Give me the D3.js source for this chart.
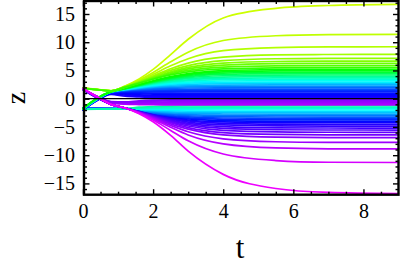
<!DOCTYPE html>
<html>
<head>
<meta charset="utf-8">
<script src="https://cdn.jsdelivr.net/npm/d3@7"></script>
<style>
  html, body { margin: 0; padding: 0; background: #fff; }
  svg { display: block; }
</style>
</head>
<body>
<script>
const WIDTH = 400;
const HEIGHT = 269;
const PLOT = { left: 84, right: 398.5, top: 1, bottom: 194.7 };
const SERIF = '"Liberation Serif"';

const T_KNOTS = [0, 0.4, 0.8, 1.2, 1.6, 2.0, 2.5, 3.0, 4.0, 5.5, 7, 9];

// yellow-green curves: start near +1.8, end high
const upperHues = [72, 75, 78, 82, 86, 90, 95, 100, 108];
const upperCurves = [
  [1.9, 1.65, 1.4, 2.25, 3.5, 5.19, 7.81, 10.53, 14.3, 16.0, 16.5, 16.7],
  [1.88, 1.64, 1.4, 2.2, 3.29, 4.65, 6.54, 8.24, 10.3, 11.15, 11.35, 11.4],
  [1.86, 1.63, 1.4, 2.15, 3.15, 4.32, 5.83, 7.08, 8.5, 9.05, 9.17, 9.2],
  [1.85, 1.62, 1.4, 2.12, 3.03, 4.05, 5.31, 6.3, 7.35, 7.76, 7.83, 7.85],
  [1.84, 1.61, 1.4, 2.1, 2.96, 3.9, 5.01, 5.86, 6.75, 7.07, 7.13, 7.15],
  [1.83, 1.6, 1.39, 2.08, 2.9, 3.78, 4.78, 5.54, 6.3, 6.59, 6.64, 6.65],
  [1.82, 1.6, 1.38, 2.06, 2.85, 3.67, 4.6, 5.27, 5.95, 6.2, 6.24, 6.25],
  [1.81, 1.59, 1.37, 2.04, 2.79, 3.56, 4.4, 5.0, 5.6, 5.8, 5.84, 5.85],
  [1.8, 1.58, 1.36, 2.02, 2.74, 3.45, 4.21, 4.75, 5.28, 5.46, 5.49, 5.5],
];

// blue -> green curves: start near -1.8, cross up, settle in the dense band above 0
const crossingUpHues = [246, 244, 242, 240, 237, 233, 228, 222, 215, 208, 200,
  192, 184, 177, 170, 163, 156, 148, 140, 132, 125, 118];
const crossingUpCurves = [
  [-1.96, -0.32, 0.78, 0.43, 0.31, 0.26, 0.24, 0.23, 0.22, 0.22, 0.22, 0.22],
  [-1.94, -0.3, 0.84, 0.64, 0.5, 0.44, 0.41, 0.4, 0.38, 0.38, 0.38, 0.38],
  [-1.94, -0.28, 0.9, 0.82, 0.68, 0.62, 0.58, 0.57, 0.55, 0.55, 0.55, 0.55],
  [-1.92, -0.26, 0.96, 0.98, 0.87, 0.82, 0.78, 0.77, 0.75, 0.75, 0.75, 0.75],
  [-1.92, -0.24, 1.02, 1.11, 1.04, 1.0, 0.97, 0.96, 0.95, 0.95, 0.95, 0.95],
  [-1.9, -0.22, 1.08, 1.22, 1.21, 1.21, 1.2, 1.2, 1.2, 1.2, 1.2, 1.2],
  [-1.9, -0.2, 1.12, 1.33, 1.37, 1.4, 1.43, 1.44, 1.45, 1.45, 1.45, 1.45],
  [-1.88, -0.18, 1.14, 1.4, 1.51, 1.58, 1.64, 1.67, 1.69, 1.7, 1.7, 1.7],
  [-1.88, -0.16, 1.16, 1.47, 1.63, 1.75, 1.84, 1.89, 1.93, 1.95, 1.95, 1.95],
  [-1.86, -0.14, 1.18, 1.52, 1.74, 1.91, 2.04, 2.11, 2.18, 2.2, 2.2, 2.2],
  [-1.86, -0.12, 1.19, 1.57, 1.84, 2.05, 2.23, 2.33, 2.42, 2.45, 2.45, 2.45],
  [-1.84, -0.1, 1.2, 1.61, 1.93, 2.19, 2.41, 2.54, 2.66, 2.69, 2.7, 2.7],
  [-1.84, -0.08, 1.21, 1.64, 2.01, 2.31, 2.59, 2.75, 2.89, 2.94, 2.95, 2.95],
  [-1.82, -0.06, 1.22, 1.67, 2.08, 2.43, 2.75, 2.95, 3.13, 3.19, 3.2, 3.2],
  [-1.82, -0.04, 1.23, 1.7, 2.15, 2.54, 2.92, 3.15, 3.37, 3.44, 3.45, 3.45],
  [-1.8, -0.02, 1.23, 1.72, 2.21, 2.65, 3.07, 3.35, 3.6, 3.69, 3.7, 3.7],
  [-1.8, 0.0, 1.24, 1.74, 2.26, 2.75, 3.22, 3.54, 3.83, 3.93, 3.95, 3.95],
  [-1.78, 0.02, 1.24, 1.76, 2.32, 2.84, 3.37, 3.73, 4.06, 4.18, 4.2, 4.2],
  [-1.76, 0.04, 1.25, 1.78, 2.36, 2.93, 3.52, 3.91, 4.29, 4.43, 4.45, 4.45],
  [-1.74, 0.06, 1.25, 1.79, 2.41, 3.01, 3.65, 4.09, 4.52, 4.68, 4.7, 4.7],
  [-1.72, 0.08, 1.25, 1.81, 2.45, 3.09, 3.78, 4.27, 4.75, 4.92, 4.95, 4.95],
  [-1.7, 0.1, 1.25, 1.82, 2.49, 3.17, 3.91, 4.45, 4.98, 5.17, 5.2, 5.2],
];

// blue-violet -> magenta curves: start near +1.8, cross down, end low
const crossingDownHues = [248, 251, 255, 259, 263, 267, 272, 277, 283, 290, 296];
const crossingDownCurves = [
  [1.6, 0.15, -1.0, -1.65, -2.25, -2.85, -3.49, -3.94, -4.37, -4.52, -4.55, -4.55],
  [1.62, 0.17, -1.0, -1.65, -2.28, -2.92, -3.63, -4.14, -4.64, -4.81, -4.84, -4.85],
  [1.64, 0.19, -1.0, -1.65, -2.31, -3.0, -3.79, -4.37, -4.96, -5.16, -5.19, -5.2],
  [1.66, 0.21, -1.0, -1.65, -2.33, -3.08, -3.94, -4.59, -5.27, -5.5, -5.54, -5.55],
  [1.68, 0.23, -1.0, -1.65, -2.36, -3.15, -4.1, -4.84, -5.62, -5.89, -5.94, -5.95],
  [1.7, 0.25, -1.0, -1.65, -2.39, -3.23, -4.27, -5.11, -6.0, -6.33, -6.39, -6.4],
  [1.72, 0.27, -1.0, -1.65, -2.42, -3.31, -4.45, -5.39, -6.4, -6.82, -6.89, -6.9],
  [1.74, 0.29, -1.0, -1.65, -2.46, -3.43, -4.73, -5.85, -7.1, -7.62, -7.73, -7.75],
  [1.76, 0.31, -1.0, -1.65, -2.5, -3.57, -5.06, -6.42, -8.0, -8.72, -8.87, -8.9],
  [1.78, 0.33, -1.0, -1.65, -2.56, -3.78, -5.62, -7.46, -9.8, -10.95, -11.25, -11.3],
  [1.8, 0.35, -1.0, -1.65, -2.65, -4.08, -6.49, -9.29, -13.4, -15.9, -16.6, -16.8],
];

// cyan / blue curves: stay near -1.8, spread into the band below 0
const lowerHues = [243, 238, 232, 226, 219, 212, 204, 196, 188, 180, 172, 165, 158];
const lowerCurves = [
  [-1.65, -1.72, -1.75, -1.75, -2.32, -2.86, -3.41, -3.77, -4.12, -4.24, -4.25, -4.25],
  [-1.67, -1.73, -1.75, -1.75, -2.29, -2.78, -3.27, -3.59, -3.89, -3.99, -4.0, -4.0],
  [-1.69, -1.74, -1.76, -1.75, -2.25, -2.7, -3.13, -3.41, -3.65, -3.74, -3.75, -3.75],
  [-1.71, -1.75, -1.76, -1.75, -2.21, -2.61, -2.98, -3.22, -3.42, -3.49, -3.5, -3.5],
  [-1.73, -1.76, -1.77, -1.75, -2.17, -2.52, -2.83, -3.02, -3.19, -3.24, -3.25, -3.25],
  [-1.75, -1.77, -1.77, -1.75, -2.12, -2.41, -2.67, -2.82, -2.95, -2.99, -3.0, -3.0],
  [-1.77, -1.78, -1.78, -1.75, -2.06, -2.3, -2.5, -2.62, -2.71, -2.75, -2.75, -2.75],
  [-1.79, -1.79, -1.78, -1.75, -2.0, -2.18, -2.33, -2.41, -2.48, -2.5, -2.5, -2.5],
  [-1.81, -1.8, -1.79, -1.75, -1.93, -2.05, -2.14, -2.2, -2.24, -2.25, -2.25, -2.25],
  [-1.83, -1.81, -1.79, -1.75, -1.85, -1.91, -1.95, -1.98, -2.0, -2.0, -2.0, -2.0],
  [-1.85, -1.82, -1.8, -1.75, -1.75, -1.75, -1.75, -1.75, -1.75, -1.75, -1.75, -1.75],
  [-1.87, -1.83, -1.8, -1.75, -1.64, -1.58, -1.54, -1.52, -1.5, -1.5, -1.5, -1.5],
  [-1.9, -1.84, -1.8, -1.75, -1.5, -1.38, -1.31, -1.28, -1.26, -1.25, -1.25, -1.25],
];

// violet curves that end just below 0
const nearZeroHues = [282, 280, 278, 276, 274, 272];
const nearZeroCurves = [
  [1.7, 0.3, -0.75, -0.98, -1.04, -1.07, -1.09, -1.1, -1.1, -1.1, -1.1, -1.1],
  [1.7, 0.33, -0.7, -0.9, -0.91, -0.92, -0.92, -0.92, -0.92, -0.92, -0.92, -0.92],
  [1.72, 0.36, -0.65, -0.82, -0.78, -0.76, -0.75, -0.74, -0.74, -0.74, -0.74, -0.74],
  [1.72, 0.39, -0.6, -0.74, -0.65, -0.6, -0.58, -0.57, -0.56, -0.56, -0.56, -0.56],
  [1.74, 0.42, -0.55, -0.66, -0.5, -0.43, -0.4, -0.39, -0.38, -0.38, -0.38, -0.38],
  [1.74, 0.45, -0.5, -0.58, -0.36, -0.26, -0.22, -0.21, -0.2, -0.2, -0.2, -0.2],
];

const X_MAJOR = [0, 2, 4, 6, 8];
const X_MINOR = [0.5, 1, 1.5, 2.5, 3, 3.5, 4.5, 5, 5.5, 6.5, 7, 7.5, 8.5];
const Y_MAJOR = [-15, -10, -5, 0, 5, 10, 15];
const Y_MINOR = [-16, -14, -13, -12, -11, -9, -8, -7, -6, -4, -3, -2, -1,
  1, 2, 3, 4, 6, 7, 8, 9, 11, 12, 13, 14, 16, 17];

const svg = d3.select("body").append("svg")
  .attr("width", WIDTH).attr("height", HEIGHT);

const xScale = d3.scaleLinear().domain([0, 9]).range([83, PLOT.right]);
const yScale = d3.scaleLinear().domain([-17.0, 17.3]).range([PLOT.bottom, PLOT.top]);

const line = d3.line()
  .x((d, i) => xScale(T_KNOTS[i]))
  .y((d) => yScale(d))
  .curve(d3.curveMonotoneX);

function drawFamily(curves, hues) {
  svg.append("g")
    .attr("fill", "none")
    .attr("stroke-width", 1.7)
    .attr("stroke-linecap", "round")
    .selectAll("path")
    .data(curves)
    .enter()
    .append("path")
    .attr("d", line)
    .attr("stroke", (d, i) => d3.hsl(hues[i], 1, 0.5).formatHex());
}

// draw order matters a little where the bands overlap
drawFamily(lowerCurves, lowerHues);
drawFamily(nearZeroCurves, nearZeroHues);
drawFamily(crossingUpCurves, crossingUpHues);
drawFamily(upperCurves, upperHues);
drawFamily(crossingDownCurves, crossingDownHues);

// z = 0 axis line
svg.append("line")
  .attr("x1", xScale(0)).attr("x2", xScale(9))
  .attr("y1", yScale(0)).attr("y2", yScale(0))
  .attr("stroke", "#000")
  .attr("stroke-width", 1.2);

function addAxis(axisFn, scale, values, size, transform, labels, padding) {
  const g = svg.append("g")
    .attr("transform", transform)
    .call(
      axisFn(scale)
        .tickValues(values)
        .tickSize(-size)
        .tickPadding(padding || 0)
        .tickFormat(labels ? d3.format("d") : "")
    );
  g.select(".domain").remove();
  g.attr("font-family", null).attr("font-size", null);
  g.selectAll("line").attr("stroke", "#000").attr("stroke-width", 1.4);
  g.selectAll("text")
    .attr("fill", "#000")
    .style("font-family", SERIF)
    .style("font-size", "20px");
  return g;
}

addAxis(d3.axisBottom, xScale, X_MAJOR, 5.5, `translate(0,${PLOT.bottom})`, true, 9);
addAxis(d3.axisBottom, xScale, X_MINOR, 3, `translate(0,${PLOT.bottom})`, false);
addAxis(d3.axisTop, xScale, X_MAJOR, 5.5, `translate(0,${PLOT.top})`, false);
addAxis(d3.axisTop, xScale, X_MINOR, 3, `translate(0,${PLOT.top})`, false);
addAxis(d3.axisLeft, yScale, Y_MAJOR, 5.5, `translate(${PLOT.left},0)`, true, 9);
addAxis(d3.axisLeft, yScale, Y_MINOR, 3, `translate(${PLOT.left},0)`, false);
addAxis(d3.axisRight, yScale, Y_MAJOR, 5.5, `translate(${PLOT.right},0)`, false);
addAxis(d3.axisRight, yScale, Y_MINOR, 3, `translate(${PLOT.right},0)`, false);

// frame
svg.append("rect")
  .attr("x", PLOT.left).attr("y", PLOT.top)
  .attr("width", PLOT.right - PLOT.left)
  .attr("height", PLOT.bottom - PLOT.top)
  .attr("fill", "none")
  .attr("stroke", "#000")
  .attr("stroke-width", 2.4);

// axis titles
svg.append("text")
  .attr("transform", "translate(25,98) rotate(-90)")
  .attr("text-anchor", "middle")
  .style("font-family", SERIF)
  .style("font-size", "28px")
  .text("z");

svg.append("text")
  .attr("x", 240).attr("y", 258)
  .attr("text-anchor", "middle")
  .style("font-family", SERIF)
  .style("font-size", "31px")
  .text("t");
</script>
</body>
</html>
